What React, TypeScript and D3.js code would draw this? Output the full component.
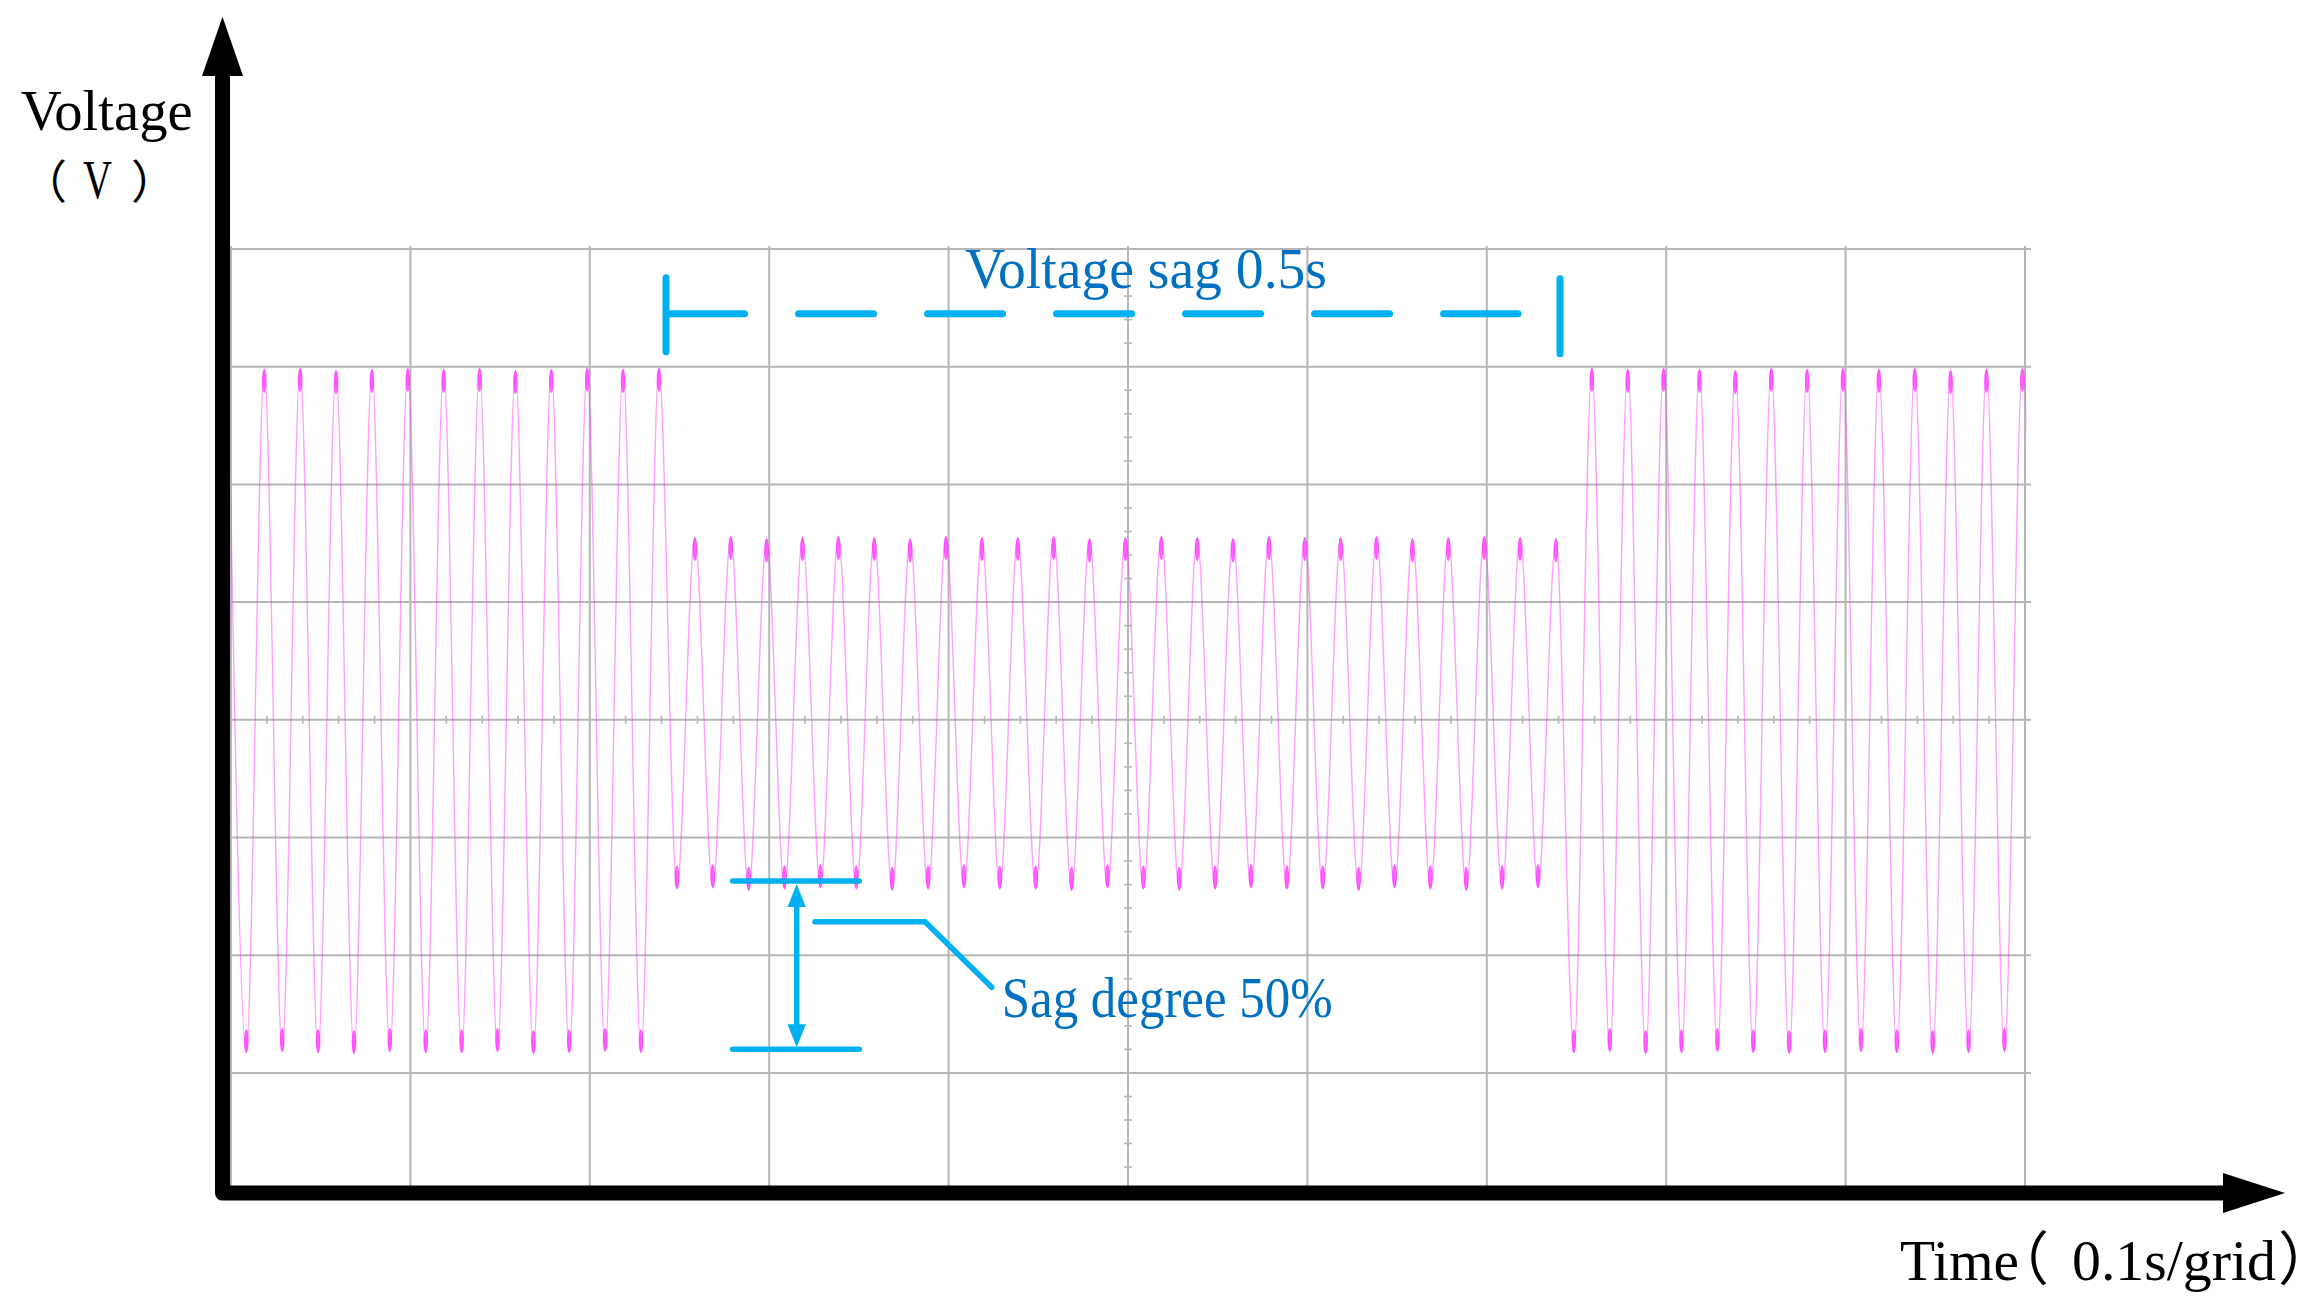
import React from "react";
import * as d3 from "d3";

const W = 2324;
const H = 1312;

// ---- Data ----
// Time axis: 0.1 s per grid, 10 grids shown
const gridTimes = [0, 0.1, 0.2, 0.3, 0.4, 0.5, 0.6, 0.7, 0.8, 0.9, 1.0];
// Voltage axis: 8 divisions, arbitrary 100 V / div
const gridVolts = [-300, -200, -100, 0, 100, 200, 300, 400];

// Waveform sampled at its extremes (50 Hz -> 20 ms period)
const firstPeakTime = -0.00145; // s
const period = 0.02; // s
// Peak value of each cycle (V)
const peakValues = [
  299, 298, 299, 297, 298, 299, 298, 299, 297, 298, 299, 298, 299,
  155, 156, 154, 155, 156, 155, 154, 156, 155, 155, 156, 154, 155, 156, 155, 154, 156, 155, 155, 156, 154, 155, 156, 155, 154,
  299, 298, 299, 298, 297, 299, 298, 299, 298, 299, 297, 298, 299,
];
// Trough value following each peak (V)
const troughValues = [
  -283, -282, -283, -284, -282, -283, -283, -282, -284, -283, -282, -283,
  -144, -143, -145, -144, -143, -144, -145, -144, -143, -144, -144, -145, -143, -144, -145, -144, -143, -144, -144, -145, -143, -144, -145, -144, -143,
  -283, -282, -284, -283, -282, -283, -284, -283, -282, -283, -284, -283, -282, -283,
];

// Annotations
const sagStart = 0.2425; // s
const sagEnd = 0.7408; // s
const sagLabel = "Voltage sag 0.5s";
const sagLabelVolt = 345; // dashed dimension line level
const sagDegreeLabel = "Sag degree 50%";
const sagLevel = -137; // reference line at sag trough
const normalLevel = -280; // reference line at normal trough
const yAxisLabel = "Voltage";
const yAxisUnit = ["（", "V", "）"];
const xAxisLabel = ["Time", "（", "0.1s/grid", "）"];

const BLUE_TEXT = "#0070C0";
const CYAN = "#00B0F0";
const GRID = "#b6b6b6";
const SERIF = "'Liberation Serif', 'DejaVu Serif', serif";
const CJK = "'Noto Sans CJK SC', 'Liberation Serif', serif";
const HALT = { fontFeatureSettings: '"halt"' } as React.CSSProperties;

export default function App() {
  const x = d3.scaleLinear().domain([0, 1.0]).range([231, 2025]);
  const y = d3.scaleLinear().domain([-400, 400]).range([1190.6, 249]);

  // waveform points
  const pts: [number, number][] = [];
  peakValues.forEach((p, k) => {
    const t = firstPeakTime + k * period;
    pts.push([t, p]);
    if (k < troughValues.length) pts.push([t + period / 2, troughValues[k]]);
  });
  const line = d3
    .line<[number, number]>()
    .x((d) => x(d[0]))
    .y((d) => y(d[1]))
    .curve(d3.curveMonotoneX);
  const wavePath = line(pts) || "";

  const x0 = x(0);
  const x1 = x(1);
  const yTop = y(400);
  const yBot = y(-400);
  const axisX = x0 - 8.5;
  const axisY = yBot + 2.5;

  const minorVolts = d3.range(-400, 401, 20).filter((v) => v % 100 !== 0);
  const minorTimes = d3.range(0, 1.0001, 0.02).filter((t) => Math.abs(t * 10 - Math.round(t * 10)) > 1e-6);
  const xc = x(0.5);
  const yc = y(0);

  const xs = x(sagStart);
  const xe = x(sagEnd);
  const yd = y(sagLabelVolt);

  const ySag = y(sagLevel);
  const yNorm = y(normalLevel);
  const arrowX = 796.7;

  return (
    <svg
      width={W}
      height={H}
      viewBox={`0 0 ${W} ${H}`}
      style={{ position: "absolute", left: 0, top: 0, background: "#fff" }}
    >
      <defs>
        <clipPath id="plotClip">
          <rect x={x0} y={0} width={x1 - x0 + 1.5} height={H} />
        </clipPath>
      </defs>
      <rect x={0} y={0} width={W} height={H} fill="#fff" />

      {/* grid */}
      <g stroke={GRID} strokeWidth={2} fill="none">
        {gridTimes.map((t) => (
          <line key={"v" + t} x1={x(t)} x2={x(t)} y1={yTop - 3} y2={yBot} />
        ))}
        {gridVolts.map((v) => (
          <line key={"h" + v} x1={x0} x2={x1 + 6} y1={y(v)} y2={y(v)} />
        ))}
      </g>
      <g stroke={GRID} strokeWidth={1.6}>
        {minorVolts.map((v) => (
          <line key={"mv" + v} x1={xc - 4} x2={xc + 4} y1={y(v)} y2={y(v)} />
        ))}
        {minorTimes.map((t) => (
          <line key={"mt" + t} x1={x(t)} x2={x(t)} y1={yc - 4} y2={yc + 4} />
        ))}
      </g>

      {/* waveform */}
      <g clipPath="url(#plotClip)">
        <path d={wavePath} fill="none" stroke="#ff2cff" strokeWidth={1.4} strokeOpacity={0.45} />
        <g fill="#ff1cff" fillOpacity={0.7}>
          {pts.map((d, i) => {
            const isPeak = d[1] > 0;
            return (
              <ellipse
                key={"tip" + i}
                cx={x(d[0])}
                cy={y(d[1]) + (isPeak ? 12 : -12)}
                rx={2.3}
                ry={12}
              />
            );
          })}
        </g>
      </g>

      {/* axes */}
      <path
        d={`M${axisX},76 V${axisY} H2223`}
        fill="none"
        stroke="#000"
        strokeWidth={15}
        strokeLinejoin="round"
      />
      <polygon points={`${axisX},16.7 ${axisX - 20.5},76 ${axisX + 20.5},76`} fill="#000" />
      <polygon points={`2285,${axisY} 2223,${axisY - 20} 2223,${axisY + 20}`} fill="#000" />

      {/* axis labels */}
      <text x={20.7} y={130} fontFamily={SERIF} fontSize={56} textLength={172} lengthAdjust="spacingAndGlyphs" fill="#000">
        {yAxisLabel}
      </text>
      <text y={198} fontSize={46} fill="#000">
        <tspan x={44} fontFamily={CJK} style={HALT}>{yAxisUnit[0]}</tspan>
        <tspan x={83} fontFamily={SERIF} fontSize={54} textLength={29} lengthAdjust="spacingAndGlyphs">{yAxisUnit[1]}</tspan>
        <tspan x={131} fontFamily={CJK} style={HALT}>{yAxisUnit[2]}</tspan>
      </text>
      <text y={1280} fontSize={58} fill="#000">
        <tspan x={1900} fontFamily={SERIF} textLength={119} lengthAdjust="spacingAndGlyphs">{xAxisLabel[0]}</tspan>
        <tspan x={2020} fontFamily={CJK} style={HALT}>{xAxisLabel[1]}</tspan>
        <tspan x={2072} fontFamily={SERIF} textLength={204} lengthAdjust="spacingAndGlyphs">{xAxisLabel[2]}</tspan>
        <tspan x={2278} fontFamily={CJK} style={HALT}>{xAxisLabel[3]}</tspan>
      </text>

      {/* sag duration dimension */}
      <g stroke={CYAN} strokeWidth={7} strokeLinecap="round" fill="none">
        <line x1={xs} x2={xs} y1={yd - 36} y2={yd + 38} />
        <line x1={xe} x2={xe} y1={yd - 35} y2={yd + 40} />
        <line x1={xs + 3.5} x2={1518} y1={yd} y2={yd} strokeDasharray="75 54" />
      </g>
      <text x={965} y={288.3} fontFamily={SERIF} fontSize={58} fill={BLUE_TEXT} textLength={362} lengthAdjust="spacingAndGlyphs">
        {sagLabel}
      </text>

      {/* sag degree dimension */}
      <g stroke={CYAN} strokeWidth={5.5} fill="none">
        <line x1={732.7} x2={859.3} y1={ySag} y2={ySag} strokeLinecap="round" />
        <line x1={732.7} x2={859.3} y1={yNorm} y2={yNorm} strokeLinecap="round" />
        <line x1={arrowX} x2={arrowX} y1={ySag + 20} y2={yNorm - 20} />
        <polyline points={`815,921.7 925,921.7 991.7,987.3`} strokeLinecap="round" strokeLinejoin="round" />
      </g>
      <polygon points={`${arrowX},${ySag + 3} ${arrowX - 9.2},${ySag + 26} ${arrowX + 9.2},${ySag + 26}`} fill={CYAN} />
      <polygon points={`${arrowX},${yNorm - 2} ${arrowX - 9.2},${yNorm - 25} ${arrowX + 9.2},${yNorm - 25}`} fill={CYAN} />
      <text x={1001.7} y={1016.7} fontFamily={SERIF} fontSize={57} fill={BLUE_TEXT} textLength={331} lengthAdjust="spacingAndGlyphs">
        {sagDegreeLabel}
      </text>
    </svg>
  );
}
